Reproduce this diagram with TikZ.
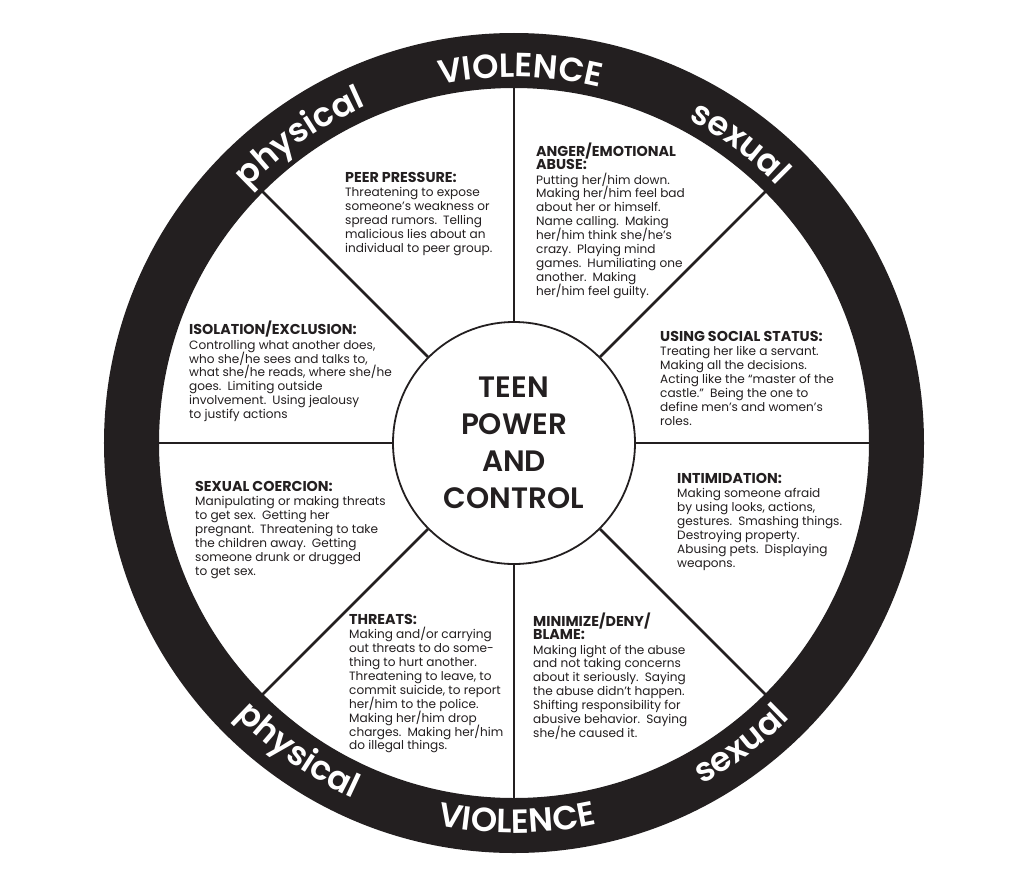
\documentclass[tikz,border=0pt]{standalone}
\usepackage{fontspec}
\usetikzlibrary{decorations.text}
\newfontfamily\bodyfont{Poppins}
\newfontfamily\heavyfont{Poppins SemiBold}
\definecolor{ink}{RGB}{35,31,32}
\newcommand\hd[1]{{\bfseries\fontsize{14.3}{13.9}\selectfont #1}}
\newcommand\dsp{\hspace{0.5em}}
\tikzset{
  blk/.style={anchor=north west, align=left, inner sep=0pt, text=ink,
    font=\bodyfont\fontsize{12.1}{13.9}\selectfont},
  spoke/.style={draw=ink, line width=2.7pt},
  hubstyle/.style={circle, draw=ink, line width=1.8pt, fill=white, minimum size=242pt,
    inner sep=0pt, align=center, text=ink, font=\heavyfont\fontsize{29.5}{37}\selectfont},
  ringtxt/.style={decorate, decoration={text along path, text align=center,
    text color=white, text={|\heavyfont\fontsize{33.5}{33}\selectfont|#1}}},
}
\begin{document}
\lineskiplimit=-20pt\relax
\lineskip=0pt\relax
\begin{tikzpicture}[x=1pt,y=1pt]
\fill[white] (-514,-436) rectangle (510,443);
\useasboundingbox (-514,-436) rectangle (510,443);
% outer ring
\fill[ink, even odd rule] (0,0) circle[radius=410] (0,0) circle[radius=355];
% hub
\node[hubstyle] (hub) at (0,0) {TEEN\\POWER\\AND\\CONTROL};
% spokes
\foreach \a in {0,45,...,315}{
  \coordinate (rim\a) at (\a:356);
  \draw[spoke] (hub.\a) -- (rim\a);
}
% ring labels
\path[ringtxt=VIOLENCE] (119:366) arc[start angle=119, end angle=59, radius=366];
\path[ringtxt=physical] (155:368) arc[start angle=155, end angle=95, radius=368];
\path[ringtxt=sexual] (83:368) arc[start angle=83, end angle=23, radius=368];
\path[ringtxt=VIOLENCE] (240.5:390) arc[start angle=240.5, end angle=300.5, radius=390];
\path[ringtxt=physical] (205:390) arc[start angle=205, end angle=265, radius=390];
\path[ringtxt=sexual] (277:390) arc[start angle=277, end angle=337, radius=390];
% text blocks
\node[blk] (peer) at (-169,271) {\hd{PEER PRESSURE:}\\[0.5pt]
Threatening to expose\\
someone’s weakness or\\
spread rumors.\dsp Telling\\
malicious lies about an\\
individual to peer group.};
\node[blk] (anger) at (22,300) {\hd{ANGER/EMOTIONAL}\\[-1pt]
\hd{ABUSE:}\\[0.5pt]
Putting her/him down.\\
Making her/him feel bad\\
about her or himself.\\
Name calling.\dsp Making\\
her/him think she/he’s\\
crazy.\dsp Playing mind\\
games.\dsp Humiliating one\\
another.\dsp Making\\
her/him feel guilty.};
\node[blk] (isol) at (-325,122) {\hd{ISOLATION/EXCLUSION:}\\[0.5pt]
Controlling what another does,\\
who she/he sees and talks to,\\
what she/he reads, where she/he\\
goes.\dsp Limiting outside\\
involvement.\dsp Using jealousy\\
to justify actions};
\node[blk] (social) at (146,112) {\hd{USING SOCIAL STATUS:}\\[0.5pt]
Treating her like a servant.\\
Making all the decisions.\\
Acting like the “master of the\\
castle.”\dsp Being the one to\\
define men’s and women’s\\
roles.};
\node[blk] (coerc) at (-319,-38) {\hd{SEXUAL COERCION:}\\[0.5pt]
Manipulating or making threats\\
to get sex.\dsp Getting her\\
pregnant.\dsp Threatening to take\\
the children away.\dsp Getting\\
someone drunk or drugged\\
to get sex.};
\node[blk] (intim) at (163,-30) {\hd{INTIMIDATION:}\\[0.5pt]
Making someone afraid\\
by using looks, actions,\\
gestures.\dsp Smashing things.\\
Destroying property.\\
Abusing pets.\dsp Displaying\\
weapons.};
\node[blk] (threats) at (-165,-171) {\hd{THREATS:}\\[0.5pt]
Making and/or carrying\\
out threats to do some-\\
thing to hurt another.\\
Threatening to leave, to\\
commit suicide, to report\\
her/him to the police.\\
Making her/him drop\\
charges.\dsp Making her/him\\
do illegal things.};
\node[blk] (minim) at (19,-170) {\hd{MINIMIZE/DENY/}\\[-1pt]
\hd{BLAME:}\\[0.5pt]
Making light of the abuse\\
and not taking concerns\\
about it seriously.\dsp Saying\\
the abuse didn’t happen.\\
Shifting responsibility for\\
abusive behavior.\dsp Saying\\
she/he caused it.};
\end{tikzpicture}
\end{document}
